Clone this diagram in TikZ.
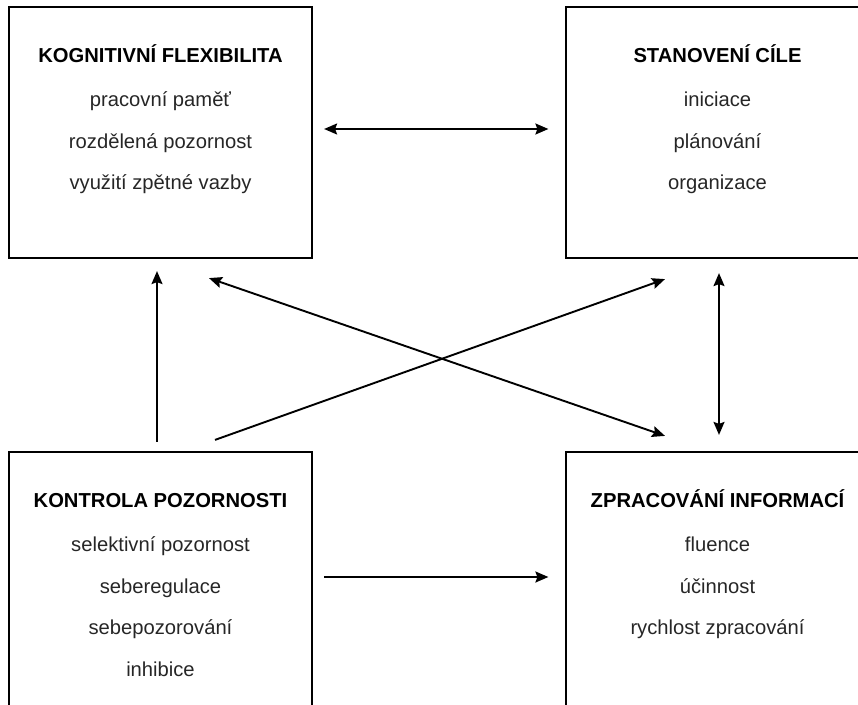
\documentclass[tikz,border=0pt]{standalone}
\usepackage{fontspec}
\setmainfont{Liberation Sans}
\usetikzlibrary{arrows.meta}
\begin{document}
\begin{tikzpicture}[x=1pt, y=1pt,
    box/.style = {draw, line width=2.2pt, minimum width=303pt, minimum height=251pt, inner sep=0pt},
    head/.style = {anchor=base, inner sep=0pt, font=\fontsize{20.2}{24}\selectfont\bfseries},
    item/.style = {anchor=base, inner sep=0pt, text=black!85, font=\fontsize{20.2}{24}\selectfont},
    link/.style = {line width=1.9pt, >={Stealth[length=13pt, width=11pt, inset=2pt]}}]
\useasboundingbox (0,0) rectangle (858,-704);
\clip (0,0) rectangle (858,-704);

\node[box] (KF) at (160.5,-132.5) {};
\node[box] (SC) at (717.5,-132.5) {};
\node[box, minimum height=270pt] (KP) at (160.5,-587) {};
\node[box, minimum height=270pt] (ZI) at (717.5,-587) {};

\node[head] (KF-h) at ([yshift=-57pt]KF.north) {KOGNITIVNÍ FLEXIBILITA};
\node[head] (SC-h) at ([yshift=-57pt]SC.north) {STANOVENÍ CÍLE};
\node[head] (KP-h) at ([yshift=-57pt]KP.north) {KONTROLA POZORNOSTI};
\node[head] (ZI-h) at ([yshift=-57pt]ZI.north) {ZPRACOVÁNÍ INFORMACÍ};

\foreach \txt [count=\i] in {pracovní paměť, rozdělená pozornost, využití zpětné vazby}
    \node[item] (KF-\i) at ([yshift={-59.5pt-41.5pt*\i}]KF.north) {\txt};
\foreach \txt [count=\i] in {iniciace, plánování, organizace}
    \node[item] (SC-\i) at ([yshift={-59.5pt-41.5pt*\i}]SC.north) {\txt};
\foreach \txt [count=\i] in {selektivní pozornost, seberegulace, sebepozorování, inhibice}
    \node[item] (KP-\i) at ([yshift={-59.5pt-41.5pt*\i}]KP.north) {\txt};
\foreach \txt [count=\i] in {fluence, účinnost, rychlost zpracování}
    \node[item] (ZI-\i) at ([yshift={-59.5pt-41.5pt*\i}]ZI.north) {\txt};

\draw[link, <->] ([xshift=11pt, yshift=3.5pt]KF.east) -- ([xshift=-16.5pt, yshift=3.5pt]SC.west);
\draw[link, ->] ([xshift=11pt, yshift=10pt]KP.east) -- ([xshift=-16.5pt, yshift=10pt]ZI.west);
\draw[link, ->] ([xshift=-3.5pt, yshift=9pt]KP.north) -- ([xshift=-3.5pt, yshift=-12pt]KF.south);
\draw[link, <->] ([xshift=1.5pt, yshift=-14pt]SC.south) -- ([xshift=1.5pt, yshift=16pt]ZI.north);
\draw[link, <->] ([xshift=48.5pt, yshift=-19pt]KF.south) -- ([xshift=-52.5pt, yshift=15pt]ZI.north);
\draw[link, ->] ([xshift=54.5pt, yshift=11pt]KP.north) -- ([xshift=-52.5pt, yshift=-20pt]SC.south);
\end{tikzpicture}
\end{document}
